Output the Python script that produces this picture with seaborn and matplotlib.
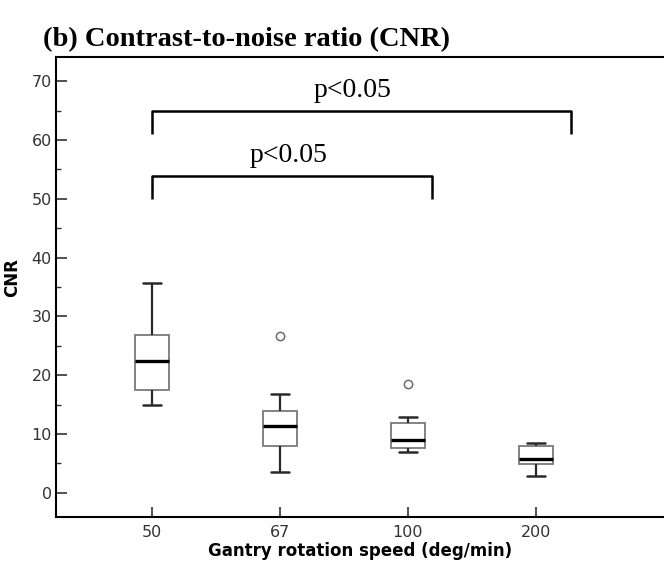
import numpy as np
import pandas as pd
import matplotlib
matplotlib.use("Agg")
import matplotlib.pyplot as plt
import seaborn as sns
from matplotlib.ticker import MultipleLocator

# ---- data ----
speeds = ["50", "67", "100", "200"]
cnr_50 = [15.0, 17.5, 22.5, 26.8, 35.6]
cnr_67 = [3.5, 6.0, 7.9, 10.0, 11.4, 12.5, 13.9, 16.8, 26.7]
cnr_100 = [6.9, 7.4, 7.7, 8.3, 8.95, 10.5, 11.9, 12.9, 18.5]
cnr_200 = [2.8, 4.9, 5.7, 7.9, 8.5]
y_ticks = [0, 10, 20, 30, 40, 50, 60, 70]

title_text = "(b) Contrast-to-noise ratio (CNR)"
x_label = "Gantry rotation speed (deg/min)"
y_label = "CNR"
sig_text = "p<0.05"

groups = [cnr_50, cnr_67, cnr_100, cnr_200]
df = pd.DataFrame({
    "speed": np.concatenate([[s] * len(g) for s, g in zip(speeds, groups)]),
    "cnr": np.concatenate(groups),
})

sns.set_theme(style="white")
plt.rcParams["font.family"] = ["DejaVu Sans"]

W, H = 664, 561
fig = plt.figure(figsize=(W / 100, H / 100), dpi=100)
left, right, top, bottom = 56, 664, 57, 517
ax = fig.add_axes([left / W, (H - bottom) / H, (right - left) / W, (bottom - top) / H])

sns.boxplot(
    data=df, x="speed", y="cnr", order=speeds, ax=ax,
    width=0.27, color="white", linecolor="black", linewidth=1.3,
    boxprops=dict(edgecolor="#7a7a7a", linewidth=1.3),
    whiskerprops=dict(color="#2a2a2a", linewidth=1.6),
    capprops=dict(color="#2a2a2a", linewidth=1.8),
    medianprops=dict(color="black", linewidth=2.4),
    flierprops=dict(marker="o", markerfacecolor="white", markeredgecolor="#6a6a6a",
                    markersize=6, markeredgewidth=1.1),
)

ax.set_ylim(-4.1, 74.1)
ax.set_xlim(-0.75, 4.0)
ax.set_yticks(y_ticks)
ax.yaxis.set_minor_locator(MultipleLocator(5))
ax.tick_params(axis="y", which="major", direction="in", length=8, width=1.2,
               color="#333333", labelsize=11.5, labelcolor="#333333", pad=3, left=True)
ax.tick_params(axis="y", which="minor", direction="in", length=3.5, width=1.0,
               color="#333333", left=True)
ax.tick_params(axis="x", which="major", direction="in", length=7, width=1.2,
               color="#333333", labelsize=11.5, labelcolor="#333333", pad=6, bottom=True)

for side in ["left", "bottom", "top"]:
    ax.spines[side].set_visible(True)
    ax.spines[side].set_color("black")
    ax.spines[side].set_linewidth(1.5)
ax.spines["right"].set_visible(False)

ax.set_xlabel(x_label, fontsize=12, fontweight="bold", color="black", labelpad=1)
ax.set_ylabel(y_label, fontsize=12, fontweight="bold", color="black")
ax.yaxis.set_label_coords(-0.058, 0.52)

# significance brackets (annotation positions in data coordinates)
brackets = [
    # x0, x1, y_top, y_end, text_x, text_y
    (0.0, 3.27, 64.9, 61.0, 1.57, 66.3),
    (0.0, 2.19, 53.9, 49.9, 1.07, 55.3),
]
for x0, x1, yt, ye, tx, ty in brackets:
    ax.plot([x0, x0, x1, x1], [ye, yt, yt, ye], color="black", lw=1.8,
            solid_joinstyle="round", solid_capstyle="butt")
    ax.text(tx, ty, sig_text, ha="center", va="bottom", fontsize=20,
            family="Liberation Serif", color="black")

fig.text(43 / W, 1 - 46 / H, title_text, ha="left", va="baseline",
         fontsize=20.5, fontweight="bold", family="Liberation Serif", color="black")

fig.savefig("out.png", dpi=100, facecolor="white")
